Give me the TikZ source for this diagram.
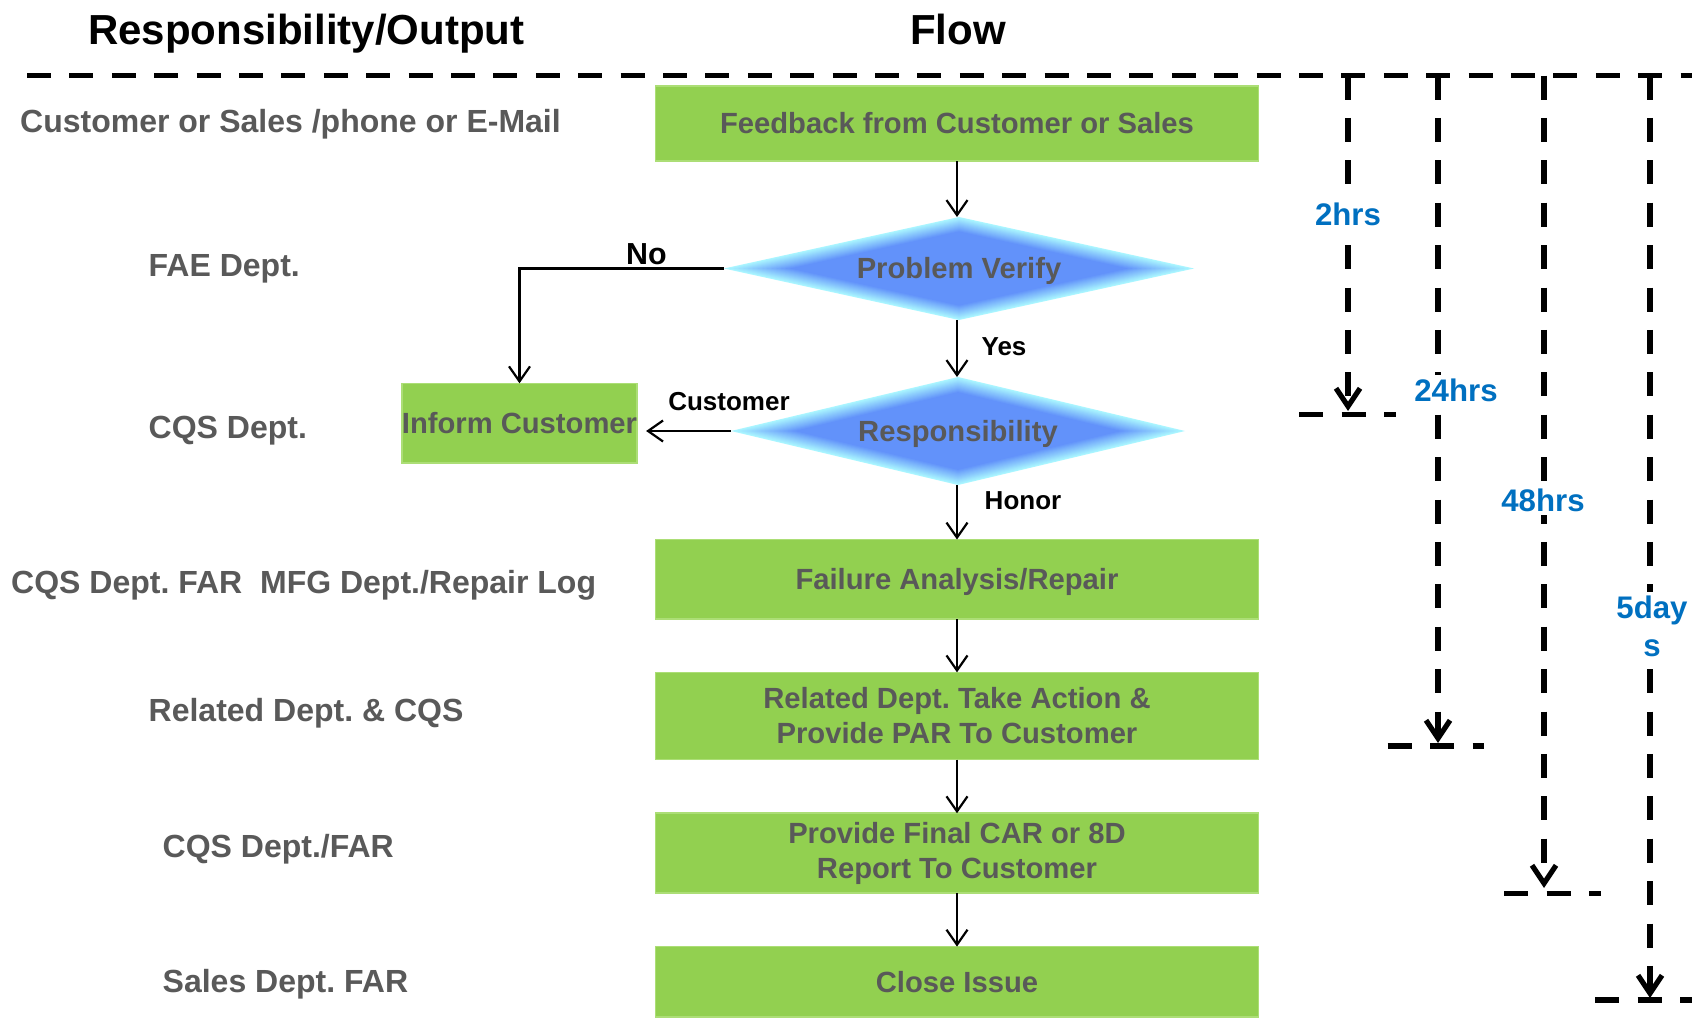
\documentclass[tikz,border=0pt]{standalone}
\usepackage{fontspec}
\setmainfont{Liberation Sans}
\usetikzlibrary{arrows.meta,shapes.geometric}
\definecolor{boxgreen}{RGB}{146,208,80}
\definecolor{boxedge}{RGB}{172,222,118}
\definecolor{txtgray}{RGB}{89,89,89}
\definecolor{timeblue}{RGB}{0,112,192}
\definecolor{dblue}{RGB}{98,146,250}
\definecolor{dcyan}{RGB}{170,246,255}
\begin{document}
\frenchspacing
\begin{tikzpicture}[x=0.5pt,y=-0.5pt,
 box/.style={rectangle, fill=boxgreen, draw=boxedge, line width=0.8pt, inner sep=0pt, outer sep=0pt,
   minimum width=301.5pt, text=txtgray, font=\bfseries\fontsize{14.6pt}{17.5pt}\selectfont, align=center},
 one/.style={text height=12pt, text depth=1.54pt},
 dia/.style={diamond, shape aspect=4.5, draw=none, inner sep=0pt, outer sep=0pt,
   text=txtgray, font=\bfseries\fontsize{14.6pt}{17.5pt}\selectfont, text height=12pt, text depth=1.54pt},
 arr/.style={line width=1.1pt, -{Straight Barb[length=7.5pt,width=10.5pt]}},
 lab/.style={anchor=base, inner sep=0pt, font=\bfseries\fontsize{13pt}{15pt}\selectfont},
 side/.style={anchor=base west, inner sep=0pt, text=txtgray, font=\bfseries\fontsize{16pt}{19pt}\selectfont},
 ttl/.style={anchor=base, inner sep=0pt, font=\bfseries\fontsize{21pt}{25pt}\selectfont},
 tline/.style={line width=2.6pt, dash pattern=on 12pt off 9.2pt},
 tarr/.style={tline, -{Straight Barb[length=9pt,width=12pt]}},
 tlab/.style={text=timeblue, fill=white, inner sep=2pt, align=center,
   font=\bfseries\fontsize{15.6pt}{18.85pt}\selectfont},
]
\useasboundingbox[fill=white] (0,0) rectangle (1704,1023);

% titles
\node[ttl] (t1) at (306.4,44.3) {Responsibility/Output};
\node[ttl] (t2) at (958,44.3) {Flow};

% side labels
\node[side] (s1) at (19.8,132.7) {Customer or Sales /phone or E-Mail};
\node[side] (s2) at (148.3,276) {FAE Dept.};
\node[side] (s3) at (148.3,438.3) {CQS Dept.};
\node[side] (s4) at (10.8,593.3) {CQS Dept. FAR\ \ MFG Dept./Repair Log};
\node[side] (s5) at (148.3,721.7) {Related Dept. \& CQS};
\node[side] (s6) at (162.3,857.3) {CQS Dept./FAR};
\node[side] (s7) at (162.3,992.7) {Sales Dept. FAR};

% diamond gradient fills (edge cyan -> centre blue)
\foreach \cx/\cy/\a/\b in {959/268.5/235/51.5, 958/431/227/54}{
  \foreach \k in {0,...,14}{
    \pgfmathsetmacro\s{1-0.02*\k}
    \pgfmathsetmacro\m{\k*100/14}
    \fill[dblue!\m!dcyan] ({\cx-\s*\a},\cy) -- (\cx,{\cy-\s*\b}) -- ({\cx+\s*\a},\cy) -- (\cx,{\cy+\s*\b}) -- cycle;
  }
}

% flow nodes
\node[box, one, minimum height=37.5pt] (b1) at (957,123.5) {Feedback from Customer or Sales};
\node[dia, minimum width=235pt, minimum height=51.5pt] (d1) at (959,268.5) {Problem Verify};
\node[dia, minimum width=227pt, minimum height=54pt] (d2) at (958,431) {Responsibility};
\node[box, one, minimum width=115.5pt, minimum height=39.7pt] (inf) at (519.5,423) {Inform Customer};
\node[box, one, minimum height=39.75pt] (fa) at (957,579.25) {Failure Analysis/Repair};
\node[box, minimum height=43.65pt] (rel) at (957,716) {Related Dept. Take Action \&\\Provide PAR To Customer};
\node[box, minimum height=39.85pt] (prov) at (957,853.1) {Provide Final CAR or 8D\\Report To Customer};
\node[box, one, minimum height=35.2pt] (cls) at (957,981.8) {Close Issue};

% connectors
\draw[arr] (b1.south) -- (b1.south |- d1.north);
\draw[arr] (b1.south |- d1.south) -- (b1.south |- d2.north);
\draw[arr] (b1.south |- d2.south) -- (fa);
\draw[arr] (fa) -- (rel);
\draw[arr] (rel) -- (prov);
\draw[arr] (prov) -- (cls);
\draw[arr] (d1.west) -| (inf.north);
\draw[arr, shorten >=4.5pt] (d2.west) -- (d2.west -| inf.east);

% connector labels
\node[lab, font=\bfseries\fontsize{15.2pt}{18pt}\selectfont] (no) at (646.4,264.3) {No};
\node[lab] (yes) at (1004,355) {Yes};
\node[lab] (cu) at (729,410.7) {Customer};
\node[lab] (ho) at (1023,509.4) {Honor};

% timeline
\coordinate (tl) at (27,75.5);
\coordinate (tr) at (1692,75.5);
\coordinate (v1s) at (1348,75.5); \coordinate (v1e) at (1348,411);
\coordinate (v2s) at (1438,75.5); \coordinate (v2e) at (1438,743);
\coordinate (v3s) at (1544,75.5); \coordinate (v3e) at (1544,888);
\coordinate (v4s) at (1650,75.5); \coordinate (v4e) at (1650,998);
\coordinate (h1a) at (1299.3,414.3); \coordinate (h1b) at (1396,414.3);
\coordinate (h2a) at (1387.7,746); \coordinate (h2b) at (1484.3,746);
\coordinate (h3a) at (1504.3,893.3); \coordinate (h3b) at (1601,893.3);
\coordinate (h4a) at (1595.3,1000); \coordinate (h4b) at (1692,1000);
\draw[tline] (tl) -- (tr);
\draw[tarr] (v1s) -- (v1e);
\draw[tarr] (v2s) -- (v2e);
\draw[tarr] (v3s) -- (v3e);
\draw[tarr] (v4s) -- (v4e);
\draw[tline] (h1a) -- (h1b);
\draw[tline] (h2a) -- (h2b);
\draw[tline] (h3a) -- (h3b);
\draw[tline] (h4a) -- (h4b);

\node[tlab] (l2) at (1348,214.5) {2hrs};
\node[tlab] (l24) at (1456,390.5) {24hrs};
\node[tlab] (l48) at (1543,500) {48hrs};
\node[tlab] (l5) at (1652,626.5) {5day\\s};
\end{tikzpicture}
\end{document}
